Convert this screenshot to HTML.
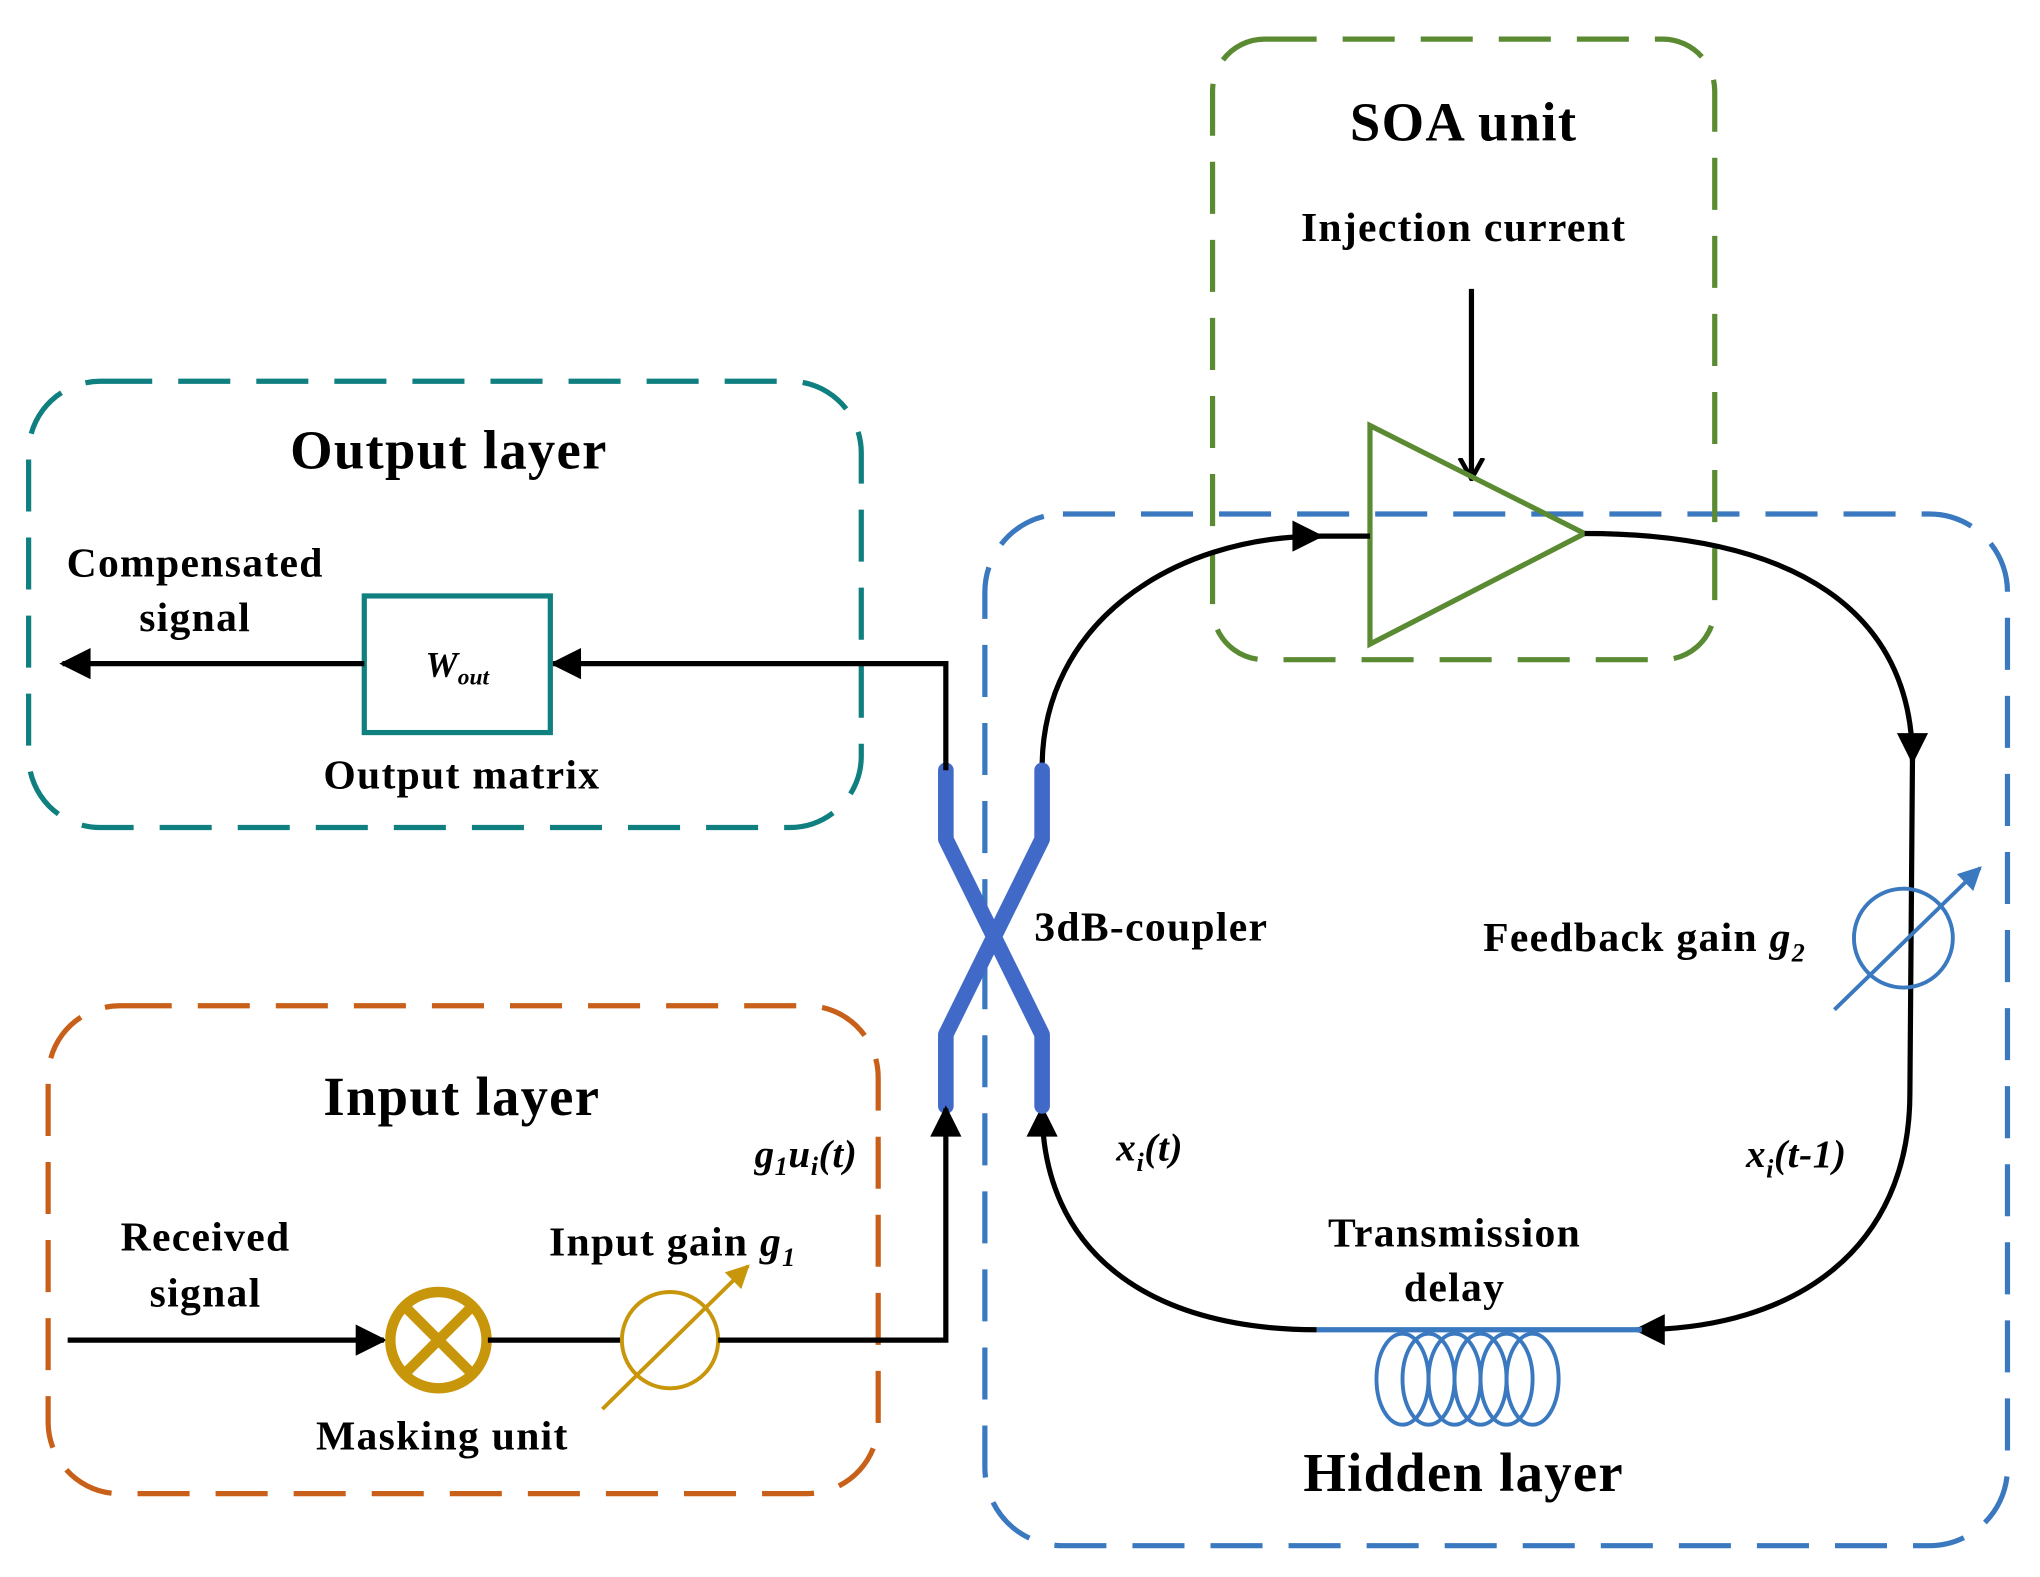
<!DOCTYPE html>
<html><head><meta charset="utf-8"><style>
html,body{margin:0;padding:0;background:#fff;}
svg{display:block;}
text{font-family:"Liberation Serif",serif;font-weight:bold;fill:#000;}
.l{letter-spacing:1px;}
</style></head><body>
<svg width="2040" height="1577" viewBox="0 0 1568 1212" xmlns="http://www.w3.org/2000/svg">
<defs>
<marker id="ab" viewBox="0 0 10 10" refX="9" refY="5" markerWidth="32" markerHeight="24" markerUnits="userSpaceOnUse" orient="auto"><path d="M0,0 L10,5 L0,10 z" fill="#000"/></marker>
<marker id="ao" viewBox="0 0 10 10" refX="9" refY="5" markerWidth="18" markerHeight="22" markerUnits="userSpaceOnUse" orient="auto"><path d="M0,0 L9,5 L0,10" fill="none" stroke="#000" stroke-width="2"/></marker>
<marker id="ag" viewBox="0 0 10 10" refX="9" refY="5" markerWidth="22" markerHeight="18" markerUnits="userSpaceOnUse" orient="auto"><path d="M0,0 L10,5 L0,10 z" fill="#c8960a"/></marker>
<marker id="abl" viewBox="0 0 10 10" refX="9" refY="5" markerWidth="22" markerHeight="18" markerUnits="userSpaceOnUse" orient="auto"><path d="M0,0 L10,5 L0,10 z" fill="#3a78c0"/></marker>
</defs>
<rect x="757" y="395" width="786" height="793" rx="60" fill="none" stroke="#3a78c0" stroke-width="4" stroke-dasharray="40,20"/>
<rect x="932" y="30" width="386" height="477" rx="40" fill="none" stroke="#5a8a32" stroke-width="4" stroke-dasharray="40,20"/>
<rect x="22" y="293" width="640" height="343" rx="55" fill="none" stroke="#0f7f80" stroke-width="4" stroke-dasharray="40,20"/>
<rect x="37" y="773" width="638" height="375" rx="55" fill="none" stroke="#c8601a" stroke-width="4" stroke-dasharray="40,20"/>
<text x="1125" y="108" font-size="42" text-anchor="middle" class="l">SOA unit</text>
<text x="1125" y="185" font-size="32" text-anchor="middle" class="l">Injection current</text>
<line x1="1131" y1="222" x2="1131" y2="368" stroke="#000" stroke-width="4" marker-end="url(#ao)"/>
<polygon points="1053,327 1053,495 1218,410" fill="none" stroke="#5a8a32" stroke-width="4"/>
<path d="M801,590 C801,480 900,412 1015,412" fill="none" stroke="#000" stroke-width="4" marker-end="url(#ab)"/>
<line x1="1010" y1="412" x2="1053" y2="412" stroke="#000" stroke-width="4"/>
<path d="M1218,410 C1380,410 1470,470 1470,585" fill="none" stroke="#000" stroke-width="4" marker-end="url(#ab)"/>
<path d="M1470,580 L1468,840 C1468,960 1380,1022 1258,1022" fill="none" stroke="#000" stroke-width="4" marker-end="url(#ab)"/>
<line x1="1012" y1="1022" x2="1262" y2="1022" stroke="#3a78c0" stroke-width="4"/>
<path d="M1012,1022 C880,1022 801,960 801,852" fill="none" stroke="#000" stroke-width="4" marker-end="url(#ab)"/>
<g fill="none" stroke="#3a78c0" stroke-width="3">
<ellipse cx="1078" cy="1060" rx="20" ry="35"/>
<ellipse cx="1098" cy="1060" rx="20" ry="35"/>
<ellipse cx="1118" cy="1060" rx="20" ry="35"/>
<ellipse cx="1138" cy="1060" rx="20" ry="35"/>
<ellipse cx="1158" cy="1060" rx="20" ry="35"/>
<ellipse cx="1178" cy="1060" rx="20" ry="35"/>
</g>
<text x="1118" y="958" font-size="32" text-anchor="middle" class="l">Transmission</text>
<text x="1118" y="1000" font-size="32" text-anchor="middle" class="l">delay</text>
<text x="1125" y="1146" font-size="42" text-anchor="middle" class="l">Hidden layer</text>
<text x="858" y="892" font-size="30" font-style="italic" letter-spacing="0.5">x<tspan font-size="20" dy="8">i</tspan><tspan dy="-8">(t)</tspan></text>
<text x="1342" y="897" font-size="30" font-style="italic" letter-spacing="0.5">x<tspan font-size="20" dy="8">i</tspan><tspan dy="-8">(t-1)</tspan></text>
<circle cx="1463" cy="721" r="38" fill="none" stroke="#3a78c0" stroke-width="3"/>
<line x1="1410" y1="776" x2="1522" y2="667" stroke="#3a78c0" stroke-width="3" marker-end="url(#abl)"/>
<text x="1140" y="731" font-size="32" class="l">Feedback gain <tspan font-style="italic">g</tspan><tspan font-size="20" dy="8" font-style="italic">2</tspan></text>
<g fill="none" stroke="#4169c8" stroke-width="12" stroke-linecap="round" stroke-linejoin="round">
<path d="M727,592 L727,645 L801,795 L801,850"/>
<path d="M801,592 L801,645 L727,795 L727,850"/>
</g>
<text x="795" y="723" font-size="32" class="l">3dB-coupler</text>
<path d="M727,592 L727,510 L425,510" fill="none" stroke="#000" stroke-width="4" marker-end="url(#ab)"/>
<rect x="280" y="458" width="143" height="105" fill="none" stroke="#0f7f80" stroke-width="4"/>
<text x="327" y="520" font-size="28" font-style="italic" font-weight="normal">W<tspan font-size="18" dy="6">out</tspan></text>
<line x1="280" y1="510" x2="48" y2="510" stroke="#000" stroke-width="4" marker-end="url(#ab)"/>
<text x="345" y="360" font-size="42" text-anchor="middle" class="l">Output layer</text>
<text x="150" y="443" font-size="32" text-anchor="middle" class="l">Compensated</text>
<text x="150" y="485" font-size="32" text-anchor="middle" class="l">signal</text>
<text x="355" y="606" font-size="32" text-anchor="middle" class="l">Output matrix</text>
<text x="355" y="857" font-size="42" text-anchor="middle" class="l">Input layer</text>
<text x="158" y="961" font-size="32" text-anchor="middle" class="l">Received</text>
<text x="158" y="1004" font-size="32" text-anchor="middle" class="l">signal</text>
<text x="422" y="965" font-size="32" class="l">Input gain <tspan font-style="italic">g</tspan><tspan font-size="20" dy="8" font-style="italic">1</tspan></text>
<text x="580" y="897" font-size="30" font-style="italic" letter-spacing="0.5">g<tspan font-size="20" dy="6">1</tspan><tspan dy="-6">u</tspan><tspan font-size="20" dy="6">i</tspan><tspan dy="-6">(t)</tspan></text>
<text x="340" y="1114" font-size="32" text-anchor="middle" class="l">Masking unit</text>
<line x1="52" y1="1030" x2="295" y2="1030" stroke="#000" stroke-width="4" marker-end="url(#ab)"/>
<circle cx="337" cy="1030" r="37" fill="none" stroke="#c8960a" stroke-width="8"/>
<line x1="311" y1="1004" x2="363" y2="1056" stroke="#c8960a" stroke-width="8"/>
<line x1="363" y1="1004" x2="311" y2="1056" stroke="#c8960a" stroke-width="8"/>
<line x1="375" y1="1030" x2="478" y2="1030" stroke="#000" stroke-width="4"/>
<circle cx="515" cy="1030" r="37" fill="none" stroke="#c8960a" stroke-width="3"/>
<line x1="463" y1="1083" x2="575" y2="973" stroke="#c8960a" stroke-width="3" marker-end="url(#ag)"/>
<path d="M552,1030 L727,1030 L727,852" fill="none" stroke="#000" stroke-width="4" marker-end="url(#ab)"/>
</svg>
</body></html>
